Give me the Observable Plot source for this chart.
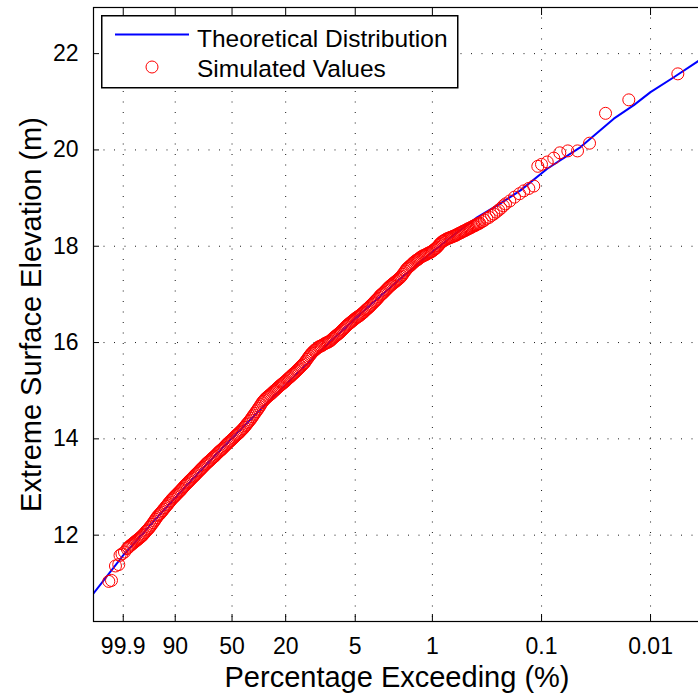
<!DOCTYPE html>
<html><head><meta charset="utf-8">
<script src="https://cdn.jsdelivr.net/npm/d3@7"></script>
<script src="https://cdn.jsdelivr.net/npm/@observablehq/plot@0.6"></script>
<style>
html,body{margin:0;padding:0;background:#fff;overflow:hidden;width:698px;height:696px;}
#chart{position:relative;width:698px;height:696px;overflow:hidden;font-family:"Liberation Sans",Arial,Helvetica,sans-serif;}
#legend{position:absolute;left:101px;top:15px;}
</style></head><body><div id="chart"></div>
<script>
// x positions are on Gumbel probability paper: reduced variate y = -ln(-ln(1 - P))
const tickPercents = [99.9, 90, 50, 20, 5, 1, 0.1, 0.01];
const tickLabels = ["99.9", "90", "50", "20", "5", "1", "0.1", "0.01"];
const elevationTicks = [12, 14, 16, 18, 20, 22];

// Theoretical distribution (reduced variate, elevation m)
const theoVariate   = [-2.62, -2.561, -1.934, -1.568, -1.215, -0.511, 0.192, 1.038, 1.743, 2.447, 3.151, 3.927, 4.561, 5.053, 5.547, 6.040, 6.462, 7.027, 7.732, 8.434, 8.857, 9.210, 9.702, 10.224, 10.30];
const theoElevation = [10.72, 10.79, 11.58, 11.98, 12.37, 13.12, 13.84, 14.68, 15.36, 16.02, 16.66, 17.33, 17.85, 18.24, 18.60, 18.89, 19.16, 19.61, 20.06, 20.65, 20.93, 21.20, 21.51, 21.85, 21.90];

// Simulated values [reduced variate, elevation m]
const simulatedValues = [
[-2.238,11.04],[-2.181,11.06],[-2.097,11.36],[-2.027,11.39],[-2.001,11.58],[-1.959,11.61],[-1.906,11.65],
[-1.850,11.72],[-1.825,11.745],[-1.800,11.77],[-1.775,11.79],[-1.750,11.81],[-1.725,11.83],[-1.700,11.85],
[-1.675,11.87],[-1.650,11.89],[-1.625,11.91],[-1.600,11.93],[-1.575,11.95],[-1.550,11.97],[-1.525,11.995],
[-1.500,12.02],[-1.475,12.05],[-1.450,12.08],[-1.425,12.105],[-1.400,12.13],[-1.375,12.16],[-1.350,12.19],
[-1.325,12.225],[-1.300,12.26],[-1.275,12.295],[-1.250,12.33],[-1.225,12.365],[-1.200,12.40],[-1.175,12.425],
[-1.150,12.45],[-1.125,12.48],[-1.100,12.51],[-1.075,12.54],[-1.050,12.57],[-1.025,12.60],[-1.000,12.63],
[-0.975,12.66],[-0.950,12.69],[-0.925,12.72],[-0.900,12.75],[-0.875,12.775],[-0.850,12.80],[-0.825,12.825],
[-0.800,12.85],[-0.775,12.875],[-0.750,12.90],[-0.725,12.925],[-0.700,12.95],[-0.675,12.98],[-0.650,13.01],
[-0.625,13.035],[-0.600,13.06],[-0.575,13.085],[-0.550,13.11],[-0.525,13.135],[-0.500,13.16],[-0.475,13.185],
[-0.450,13.21],[-0.425,13.235],[-0.400,13.26],[-0.375,13.285],[-0.350,13.31],[-0.325,13.335],[-0.300,13.36],
[-0.275,13.385],[-0.250,13.41],[-0.225,13.435],[-0.200,13.46],[-0.175,13.485],[-0.150,13.51],[-0.125,13.53],
[-0.100,13.55],[-0.075,13.575],[-0.050,13.60],[-0.025,13.62],[0.000,13.64],[0.025,13.665],[0.050,13.69],
[0.075,13.715],[0.100,13.74],[0.125,13.76],[0.150,13.78],[0.175,13.805],[0.200,13.83],[0.225,13.855],
[0.250,13.88],[0.275,13.905],[0.300,13.93],[0.325,13.95],[0.350,13.97],[0.375,13.995],[0.400,14.02],
[0.425,14.045],[0.450,14.07],[0.475,14.09],[0.500,14.11],[0.525,14.135],[0.550,14.16],[0.575,14.185],
[0.600,14.21],[0.625,14.24],[0.650,14.27],[0.675,14.30],[0.700,14.33],[0.725,14.36],[0.750,14.39],
[0.775,14.425],[0.800,14.46],[0.825,14.495],[0.850,14.53],[0.875,14.565],[0.900,14.60],[0.925,14.635],
[0.950,14.67],[0.975,14.71],[1.000,14.75],[1.025,14.78],[1.050,14.81],[1.075,14.835],[1.100,14.86],
[1.125,14.88],[1.150,14.90],[1.175,14.92],[1.200,14.94],[1.225,14.965],[1.250,14.99],[1.275,15.01],
[1.300,15.03],[1.325,15.055],[1.350,15.08],[1.375,15.10],[1.400,15.12],[1.425,15.14],[1.450,15.16],
[1.475,15.18],[1.500,15.20],[1.525,15.225],[1.550,15.25],[1.575,15.27],[1.600,15.29],[1.625,15.315],
[1.650,15.34],[1.675,15.36],[1.700,15.38],[1.725,15.405],[1.750,15.43],[1.775,15.455],[1.800,15.48],
[1.825,15.505],[1.850,15.53],[1.875,15.555],[1.900,15.58],[1.925,15.615],[1.950,15.65],[1.975,15.685],
[2.000,15.72],[2.025,15.75],[2.050,15.78],[2.075,15.805],[2.100,15.83],[2.125,15.85],[2.150,15.87],
[2.175,15.89],[2.200,15.91],[2.225,15.92],[2.250,15.93],[2.275,15.945],[2.300,15.96],[2.325,15.975],
[2.350,15.99],[2.375,16.00],[2.400,16.01],[2.425,16.025],[2.450,16.04],[2.475,16.065],[2.500,16.09],
[2.525,16.11],[2.550,16.13],[2.575,16.15],[2.600,16.17],[2.625,16.19],[2.650,16.21],[2.675,16.235],
[2.700,16.26],[2.725,16.285],[2.750,16.31],[2.775,16.335],[2.800,16.36],[2.825,16.38],[2.850,16.40],
[2.875,16.42],[2.900,16.44],[2.925,16.46],[2.950,16.48],[2.975,16.50],[3.000,16.52],[3.025,16.535],
[3.050,16.55],[3.075,16.57],[3.100,16.59],[3.125,16.61],[3.150,16.63],[3.175,16.655],[3.200,16.68],
[3.225,16.70],[3.250,16.72],[3.275,16.745],[3.300,16.77],[3.325,16.795],[3.350,16.82],[3.375,16.845],
[3.400,16.87],[3.425,16.895],[3.450,16.92],[3.475,16.95],[3.500,16.98],[3.525,17.00],[3.550,17.02],
[3.575,17.045],[3.600,17.07],[3.625,17.095],[3.650,17.12],[3.675,17.145],[3.700,17.17],[3.725,17.19],
[3.750,17.21],[3.775,17.23],[3.800,17.25],[3.825,17.27],[3.850,17.29],[3.875,17.31],[3.900,17.33],
[3.925,17.355],[3.950,17.38],[3.975,17.415],[4.000,17.45],[4.025,17.485],[4.050,17.52],[4.075,17.545],
[4.100,17.57],[4.125,17.59],[4.150,17.61],[4.175,17.635],[4.200,17.66],[4.225,17.68],[4.250,17.70],
[4.275,17.715],[4.300,17.73],[4.325,17.75],[4.350,17.77],[4.375,17.785],[4.400,17.80],[4.425,17.81],
[4.450,17.82],[4.475,17.835],[4.500,17.85],[4.525,17.86],[4.550,17.87],[4.575,17.885],[4.600,17.90],
[4.625,17.92],[4.650,17.94],[4.675,17.96],[4.700,17.98],[4.725,18.01],[4.750,18.04],[4.775,18.065],
[4.800,18.09],[4.825,18.105],[4.850,18.12],[4.875,18.135],[4.900,18.15],[4.925,18.16],[4.950,18.17],
[4.975,18.18],[5.000,18.19],[5.025,18.20],[5.050,18.21],[5.075,18.22],[5.100,18.23],[5.125,18.245],
[5.150,18.26],[5.175,18.27],[5.200,18.28],[5.225,18.295],[5.250,18.31],[5.275,18.32],[5.300,18.33],
[5.325,18.345],[5.350,18.36],[5.375,18.37],[5.400,18.38],[5.425,18.395],[5.450,18.41],[5.475,18.42],
[5.500,18.43],[5.525,18.445],[5.550,18.46],[5.575,18.47],[5.600,18.48],[5.650,18.51],[5.700,18.54],
[5.750,18.58],[5.800,18.60],[5.850,18.64],[5.900,18.67],[5.950,18.71],[6.000,18.75],
[6.05,18.79],[6.10,18.84],[6.146,18.88],[6.236,18.94],[6.336,19.02],[6.441,19.09],[6.532,19.15],[6.638,19.20],
[6.743,19.25],[6.828,19.66],[6.906,19.70],[7.027,19.75],[7.166,19.83],[7.293,19.94],[7.462,19.98],[7.667,19.98],
[7.921,20.14],[8.259,20.76],[8.751,21.04],[9.787,21.58]
];

const gumbel = p => -Math.log(-Math.log(1 - p / 100));
const tickVariates = tickPercents.map(gumbel);
const labelOf = new Map(tickVariates.map((v, i) => [v, tickLabels[i]]));
const theo = theoVariate.map((v, i) => ({x: v, y: theoElevation[i]}));
const sim = simulatedValues.map(([x, y]) => ({x, y}));

const font = "'Liberation Sans', Arial, Helvetica, sans-serif";
const dotted = {stroke: "#000", strokeOpacity: 0.9, strokeWidth: 1, strokeDasharray: "1,9.5"};

const chart = Plot.plot({
  width: 710, height: 696,
  marginLeft: 93, marginRight: 10, marginTop: 7, marginBottom: 75,
  style: {fontFamily: font, background: "transparent", color: "#000", maxWidth: "none"},
  x: {domain: [-2.561, 10.266]},
  y: {domain: [10.207, 22.958]},
  marks: [
    Plot.gridX(tickVariates, dotted),
    Plot.gridY(elevationTicks, dotted),
    Plot.line(theo, {x: "x", y: "y", stroke: "#0000ff", strokeWidth: 2, clip: true}),
    Plot.dot(sim, {x: "x", y: "y", r: 6, stroke: "#ff0000", strokeWidth: 1, fill: "none", clip: true}),
    Plot.frame({stroke: "#000", strokeWidth: 1.2}),
    Plot.axisX(tickVariates, {anchor: "bottom", tickSize: -7, tickPadding: 23, fontSize: 23,
      tickFormat: v => labelOf.get(v), label: null}),
    Plot.axisX(tickVariates, {anchor: "top", tickSize: -7, tickFormat: () => "", label: null}),
    Plot.axisY(elevationTicks, {anchor: "left", tickSize: -6, tickPadding: 21, fontSize: 23, label: null}),
    Plot.text(["Percentage Exceeding (%)"], {text: d => d, frameAnchor: "bottom", textAnchor: "middle", lineAnchor: "middle", dy: 56, fontSize: 29}),
    Plot.text(["Extreme Surface Elevation (m)"], {text: d => d, frameAnchor: "left", textAnchor: "middle", lineAnchor: "middle", rotate: -90, dx: -62, fontSize: 29})
  ]
});
chart.style.maxWidth = "none";
chart.style.position = "absolute";
chart.style.left = "0px";
chart.style.top = "0px";
const root = document.getElementById("chart");
root.appendChild(chart);

// Legend (inside the axes, top-left)
const legend = document.createElementNS("http://www.w3.org/2000/svg", "svg");
legend.setAttribute("id", "legend");
legend.setAttribute("width", "358");
legend.setAttribute("height", "74");
legend.innerHTML = `
  <rect x="0.75" y="0.75" width="356" height="72" fill="#fff" stroke="#000" stroke-width="1.5"/>
  <line x1="14" y1="19.5" x2="88" y2="19.5" stroke="#0000ff" stroke-width="2"/>
  <circle cx="51" cy="52" r="6" fill="none" stroke="#ff0000" stroke-width="1"/>
  <text x="96" y="31.5" font-family="${font}" font-size="24.5" fill="#000">Theoretical Distribution</text>
  <text x="96" y="62" font-family="${font}" font-size="24.5" fill="#000">Simulated Values</text>`;
root.appendChild(legend);
</script>
</body></html>
